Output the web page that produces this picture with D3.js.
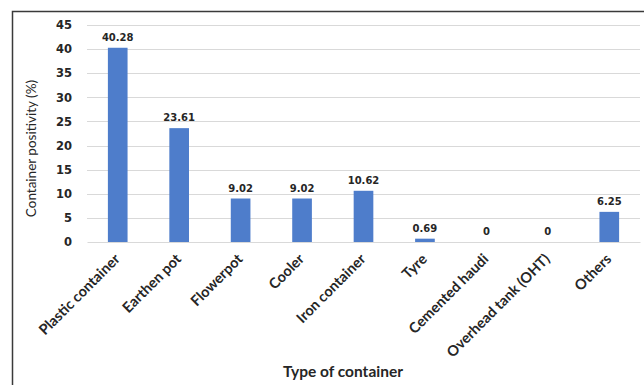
<!DOCTYPE html>
<html>
<head>
<meta charset="utf-8">
<script src="https://cdn.jsdelivr.net/npm/d3@7"></script>
<style>
  html, body { margin: 0; padding: 0; background: #fff; }
  svg { display: block; }
</style>
</head>
<body>
<svg id="chart" width="644" height="385"></svg>
<script>
// Container types and the share of positive containers (%)
const categories = ["Plastic container", "Earthen pot", "Flowerpot", "Cooler", "Iron container",
                    "Tyre", "Cemented haudi", "Overhead tank (OHT)", "Others"];
const positivity = [40.28, 23.61, 9.02, 9.02, 10.62, 0.69, 0, 0, 6.25];
const yTicks = [0, 5, 10, 15, 20, 25, 30, 35, 40, 45];
const yTitle = "Container positivity (%)";
const xTitle = "Type of container";

const svg = d3.select("#chart");
const W = 644, H = 385;
const plot = { left: 87, right: 640, top: 25, bottom: 242 };

// Frame lines (top and left)
svg.append("path")
  .attr("d", `M12.5,${H} L12.5,11.5 L${W},11.5`)
  .attr("fill", "none")
  .attr("stroke", "#3a3a3a")
  .attr("stroke-width", 1.5);

const x = d3.scaleBand()
  .domain(categories)
  .range([plot.left, plot.right])
  .paddingInner(0.68)
  .paddingOuter(0.34);

const y = d3.scaleLinear()
  .domain([0, 45])
  .range([plot.bottom, plot.top]);

// Gridlines
svg.append("g")
  .selectAll("line")
  .data(yTicks.filter(t => t > 0))
  .join("line")
  .attr("x1", plot.left)
  .attr("x2", plot.right)
  .attr("y1", d => Math.round(y(d)) + 0.5)
  .attr("y2", d => Math.round(y(d)) + 0.5)
  .attr("stroke", "#d9d9d9")
  .attr("stroke-width", 1);

// Y axis tick labels
const yAxis = svg.append("g")
  .attr("transform", `translate(${plot.left},0)`)
  .call(d3.axisLeft(y).tickValues(yTicks).tickSize(0).tickPadding(15));
yAxis.select(".domain").remove();
yAxis.selectAll("text")
  .attr("font-family", "DejaVu Sans, sans-serif")
  .attr("font-size", 11.5)
  .attr("font-weight", "bold")
  .attr("fill", "#262626");

// Bars
svg.append("g")
  .selectAll("rect")
  .data(categories.map((c, i) => ({ c, v: positivity[i] })))
  .join("rect")
  .attr("x", d => x(d.c))
  .attr("width", x.bandwidth())
  .attr("y", d => y(d.v))
  .attr("height", d => y(0) - y(d.v))
  .attr("fill", "#4e7dcb");

// X axis baseline and category labels
const xAxis = svg.append("g")
  .attr("transform", `translate(0,${plot.bottom})`)
  .call(d3.axisBottom(x).tickSize(0).tickPadding(0));
xAxis.select(".domain")
  .attr("stroke", "#d9d9d9")
  .attr("stroke-width", 1);
xAxis.selectAll("text")
  .attr("font-family", "Lato, sans-serif")
  .attr("font-size", 14.5)
  .attr("font-weight", "bold")
  .attr("fill", "#262626")
  .attr("text-anchor", "end")
  .attr("dy", null)
  .attr("transform", "translate(3,18) rotate(-45)");

// Value labels
svg.append("g")
  .selectAll("text")
  .data(categories.map((c, i) => ({ c, v: positivity[i] })))
  .join("text")
  .attr("x", d => x(d.c) + x.bandwidth() / 2)
  .attr("y", d => y(d.v) - 7)
  .attr("text-anchor", "middle")
  .attr("font-family", "DejaVu Sans, sans-serif")
  .attr("font-size", 10)
  .attr("font-weight", "bold")
  .attr("fill", "#262626")
  .text(d => d.v);

// Axis titles
svg.append("text")
  .attr("transform", `translate(36,${(plot.top + plot.bottom) / 2 + 15}) rotate(-90)`)
  .attr("text-anchor", "middle")
  .attr("font-family", "Lato, sans-serif")
  .attr("font-size", 13.5)
  .attr("fill", "#262626")
  .text(yTitle);

svg.append("text")
  .attr("x", 343)
  .attr("y", 377)
  .attr("text-anchor", "middle")
  .attr("font-family", "Lato, sans-serif")
  .attr("font-size", 15.5)
  .attr("font-weight", "bold")
  .attr("fill", "#262626")
  .text(xTitle);
</script>
</body>
</html>
